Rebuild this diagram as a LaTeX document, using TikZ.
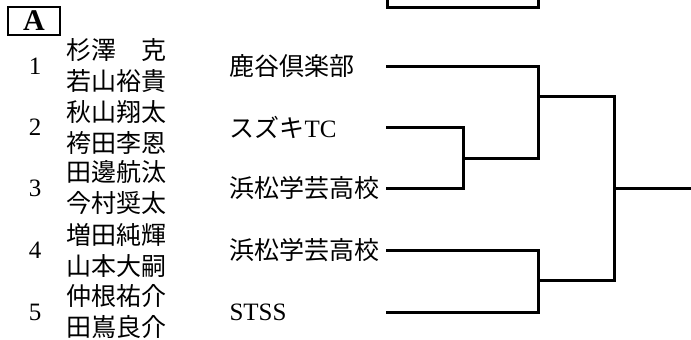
\documentclass[tikz,border=0pt]{standalone}
\usepackage{fontspec}
\setmainfont{Liberation Serif}
\newfontfamily\jpfont{Noto Sans CJK JP}
\usetikzlibrary{positioning}

\begin{document}
\begin{tikzpicture}[x=1pt, y=-1pt, line width=3pt, line cap=rect,
               num/.style ={inner sep=0, font=\fontsize{25}{25}\selectfont},
               pair/.style ={inner sep=0, anchor=west, align=left, font=\fontsize{25}{31}\selectfont\jpfont},
               team/.style ={inner sep=0, anchor=west, font=\fontsize{25}{25}\selectfont\jpfont},
               block/.style ={draw, line width=2.2pt, inner sep=0, minimum width=52pt, minimum height=28pt,
               font=\fontsize{30}{30}\selectfont\bfseries}]

           \useasboundingbox (0,0) rectangle (691,340);

           %bloque
           \node[block] (blk) at (34,21) {A};
           \draw (387,0) |- (538,7) -- (538,0);

           %numeros y jugadores
           \node[num] (n1) at (35,66) {1};
           \node[num] (n2) at (35,127) {2};
           \node[num] (n3) at (35,188) {3};
           \node[num] (n4) at (35,250) {4};
           \node[num] (n5) at (35,312) {5};

           \node[pair] (p1) at (65,66) {杉澤　克\\若山裕貴};
           \node[pair] (p2) at (65,127) {秋山翔太\\袴田李恩};
           \node[pair] (p3) at (65,188) {田邊航汰\\今村奨太};
           \node[pair] (p4) at (65,250) {増田純輝\\山本大嗣};
           \node[pair] (p5) at (65,312) {仲根祐介\\田嶌良介};

           %equipos
           \node[team] (e1) at (228,66) {鹿谷倶楽部};
           \node[team] (e2) at (228,127) {スズキ{\rmfamily TC}};
           \node[team] (e3) at (228,188) {浜松学芸高校};
           \node[team] (e4) at (228,250) {浜松学芸高校};
           \node[team] (e5) at (228,312) {\rmfamily STSS};

           \coordinate (t1) at (387,66);
           \coordinate (t2) at (387,127);
           \coordinate (t3) at (387,188);
           \coordinate (t4) at (387,250);
           \coordinate (t5) at (387,312);

           \coordinate (j23) at (463,158);
           \coordinate (j1) at (538,96);
           \coordinate (j45) at (538,280);
           \coordinate (jf) at (614,188);
           \coordinate (out) at (691,188);

           %cuadro
           \draw (t2) -| (j23);
           \draw (t3) -| (j23);
           \draw (t1) -| (j1);
           \draw (j23) -| (j1);
           \draw (t4) -| (j45);
           \draw (t5) -| (j45);
           \draw (j1) -| (jf);
           \draw (j45) -| (jf);
           \draw (jf) -- (out);

\end{tikzpicture}
\end{document}
